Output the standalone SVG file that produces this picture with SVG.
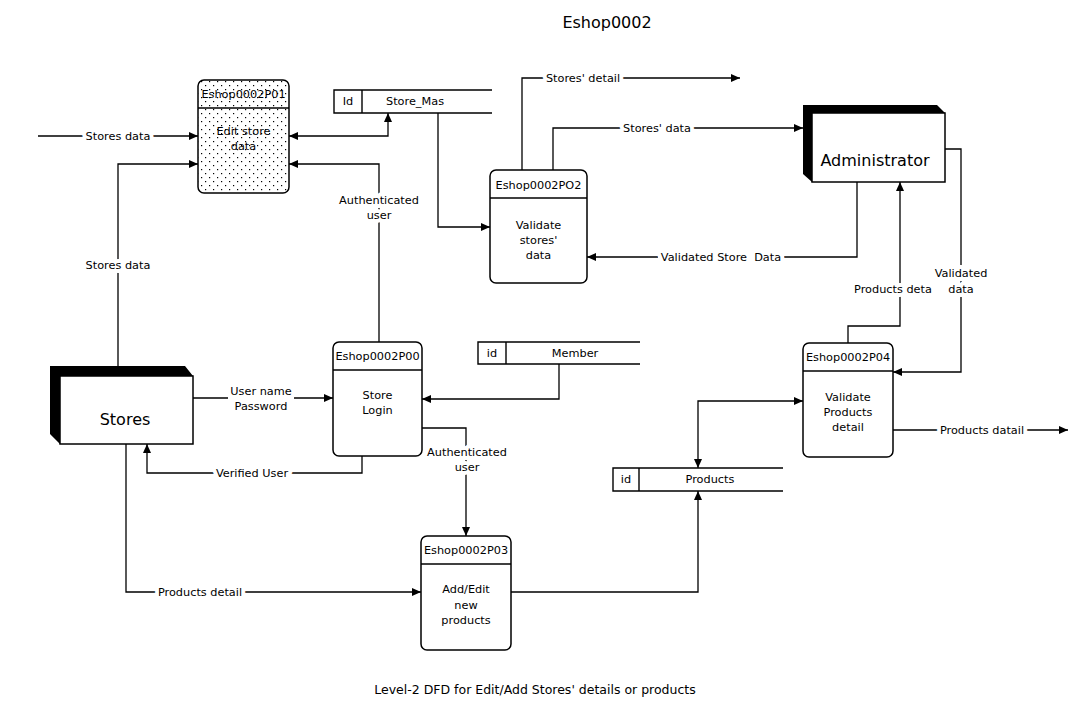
<svg xmlns="http://www.w3.org/2000/svg" width="1072" height="713" viewBox="0 0 1072 713">
<style>
text{font-family:"DejaVu Sans","Liberation Sans",sans-serif;fill:#000;text-anchor:middle;dominant-baseline:central}
.t{font-size:11.3px}
.lbl{font-size:11.3px;paint-order:stroke;stroke:#fff;stroke-width:8px;stroke-linejoin:round}
.big{font-size:16px}
.proc{fill:#fff;stroke:#000;stroke-width:1.5}
.hdr{stroke:#000;stroke-width:1.3}
.ds{fill:none;stroke:#000;stroke-width:1.4}
.c{fill:none;stroke:#000;stroke-width:1.3;marker-end:url(#ah)}
.bi{marker-start:url(#ah)}
.shadow{fill:#000}
.ext{fill:#fff;stroke:#000;stroke-width:1.5}
.bg{fill:#fff}
</style>
<defs>
<marker id="ah" markerWidth="9" markerHeight="8" refX="9" refY="4" orient="auto-start-reverse" markerUnits="userSpaceOnUse">
<path d="M0,0 L9,4 L0,8 z" fill="#000"/>
</marker>
<pattern id="dots" width="8" height="8" patternUnits="userSpaceOnUse">
<rect width="8" height="8" fill="#fff"/>
<rect x="1" y="1" width="1.2" height="1.2" fill="#000"/>
<rect x="5" y="5" width="1.2" height="1.2" fill="#000"/>
</pattern>
</defs>
<rect width="1072" height="713" fill="#fff"/>
<text x="607" y="22" style="font-size:16px">Eshop0002</text>

<g id="connectors">
<path class="c" d="M38,136 H198"/>
<path class="c" d="M118,366 V164 H198"/>
<path class="c bi" d="M289,136 H388 V113"/>
<path class="c" d="M379,342 V164 H289"/>
<path class="c" d="M438,113 V227 H490"/>
<path class="c" d="M522,170 V78 H740"/>
<path class="c" d="M553,170 V128 H803"/>
<path class="c" d="M857,182 V257 H587"/>
<path class="c" d="M945,149 H961 V372 H893"/>
<path class="c" d="M848,343 V326 H900 V182"/>
<path class="c bi" d="M803,401 H698 V468"/>
<path class="c" d="M893,430 H1068"/>
<path class="c" d="M193,398 H333"/>
<path class="c" d="M559,364 V399 H422"/>
<path class="c" d="M362,456 V473 H147 V444"/>
<path class="c" d="M422,428 H466 V536"/>
<path class="c" d="M126,444 V592 H421"/>
<path class="c" d="M511,592 H698 V491"/>
<rect class="bg" x="228" y="384" width="66" height="29"/>
<rect class="bg" x="658" y="250" width="126" height="14"/>
<text class="lbl" x="118" y="136">Stores data</text>
<text class="lbl" x="118" y="265">Stores data</text>
<text class="lbl" x="379" y="200">Authenticated</text>
<text class="lbl" x="379" y="215">user</text>
<text class="lbl" x="583" y="78">Stores' detail</text>
<text class="lbl" x="657" y="128">Stores' data</text>
<text class="lbl" x="721" y="257">Validated Store&#160; Data</text>
<text class="lbl" x="893" y="289">Products deta</text>
<text class="lbl" x="961" y="273">Validated</text>
<text class="lbl" x="961" y="289">data</text>
<text class="lbl" x="982" y="430">Products datail</text>
<text class="lbl" x="261" y="391">User name</text>
<text class="lbl" x="261" y="406">Password</text>
<text class="lbl" x="252" y="473">Verified User</text>
<text class="lbl" x="467" y="452">Authenticated</text>
<text class="lbl" x="467" y="467">user</text>
<text class="lbl" x="200" y="592">Products detail</text>
</g>

<g id="P01">
<rect class="proc" x="198" y="80" width="91" height="113" rx="6" style="fill:url(#dots)"/>
<line class="hdr" x1="198" y1="108" x2="289" y2="108"/>
<text class="t" x="243.5" y="94">Eshop0002P01</text>
<text class="t" x="243.5" y="131">Edit store</text>
<text class="t" x="243.5" y="146">data</text>
</g>

<g id="P02">
<rect class="proc" x="490" y="170" width="97" height="113" rx="6"/>
<line class="hdr" x1="490" y1="198" x2="587" y2="198"/>
<text class="t" x="538.5" y="185">Eshop0002PO2</text>
<text class="t" x="538.5" y="225">Validate</text>
<text class="t" x="538.5" y="240">stores'</text>
<text class="t" x="538.5" y="255">data</text>
</g>

<g id="P00">
<rect class="proc" x="333" y="342" width="89" height="114" rx="6"/>
<line class="hdr" x1="333" y1="370" x2="422" y2="370"/>
<text class="t" x="377.5" y="356">Eshop0002P00</text>
<text class="t" x="377.5" y="395">Store</text>
<text class="t" x="377.5" y="410">Login</text>
</g>

<g id="P03">
<rect class="proc" x="421" y="536" width="90" height="114" rx="6"/>
<line class="hdr" x1="421" y1="564" x2="511" y2="564"/>
<text class="t" x="466" y="550">Eshop0002P03</text>
<text class="t" x="466" y="589">Add/Edit</text>
<text class="t" x="466" y="605">new</text>
<text class="t" x="466" y="620">products</text>
</g>

<g id="P04">
<rect class="proc" x="803" y="343" width="90" height="114" rx="6"/>
<line class="hdr" x1="803" y1="371" x2="893" y2="371"/>
<text class="t" x="848" y="357">Eshop0002P04</text>
<text class="t" x="848" y="397">Validate</text>
<text class="t" x="848" y="412">Products</text>
<text class="t" x="848" y="427">detail</text>
</g>

<g id="Store_Mas">
<path class="ds" d="M492,90 H334 V113 H492 M362,90 V113"/>
<text class="t" x="348" y="101.5">Id</text>
<text class="t" x="415" y="101.5">Store_Mas</text>
</g>

<g id="Member">
<path class="ds" d="M640,342 H478 V364 H640 M506,342 V364"/>
<text class="t" x="492" y="353">id</text>
<text class="t" x="575" y="353">Member</text>
</g>

<g id="Products">
<path class="ds" d="M783,468 H613 V491 H783 M639,468 V491"/>
<text class="t" x="626" y="479.5">id</text>
<text class="t" x="710" y="479.5">Products</text>
</g>

<g id="Stores">
<polygon class="shadow" points="50,366 185,366 193,376 60,376 60,444 50,434"/>
<rect class="ext" x="60" y="376" width="133" height="68"/>
<text class="big" x="125" y="419">Stores</text>
</g>

<g id="Administrator">
<polygon class="shadow" points="803,105 937,105 945,113 812,113 812,182 803,174"/>
<rect class="ext" x="812" y="113" width="133" height="69"/>
<text class="big" x="875" y="160">Administrator</text>
</g>

<text x="535" y="689" style="font-size:12.5px">Level-2 DFD for Edit/Add Stores' details or products</text>
</svg>
